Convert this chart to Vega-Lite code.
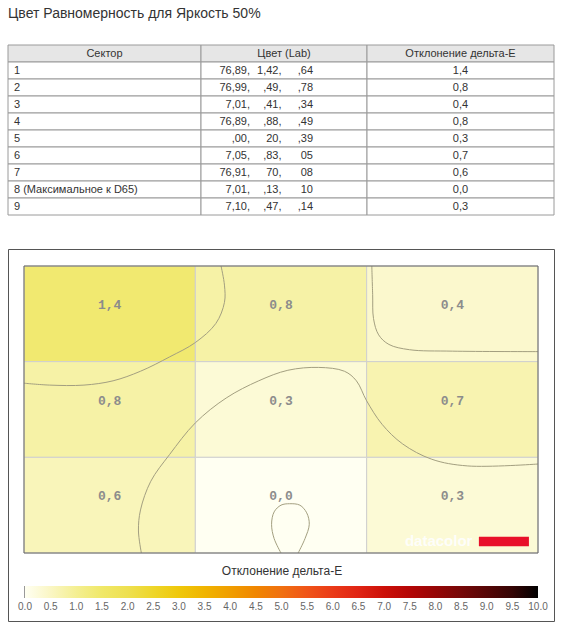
{
  "$schema": "https://vega.github.io/schema/vega-lite/v6.json",
  "padding": {"left": 7, "top": 6, "right": 9, "bottom": 0},
  "background": "white",
  "title": {"text": "Цвет Равномерность для Яркость 50%", "anchor": "start", "frame": "group", "fontSize": 14, "fontWeight": "normal", "font": "Liberation Sans", "color": "#333333", "offset": 24},
  "config": {"view": {"stroke": null}, "font": "Liberation Sans"},
  "datasets": {
    "headers": [{"sector": 0, "c1": "Сектор", "c2": "Цвет (Lab)", "c3": "Отклонение дельта-E"}],
    "sectors": [
      {"sector": 1, "name": "1", "L": "76,89,", "a": "1,42,", "b": ",64", "de": 1.4, "col": 0, "row": 0},
      {"sector": 2, "name": "2", "L": "76,99,", "a": ",49,", "b": ",78", "de": 0.8, "col": 1, "row": 0},
      {"sector": 3, "name": "3", "L": "7,01,", "a": ",41,", "b": ",34", "de": 0.4, "col": 2, "row": 0},
      {"sector": 4, "name": "4", "L": "76,89,", "a": ",88,", "b": ",49", "de": 0.8, "col": 0, "row": 1},
      {"sector": 5, "name": "5", "L": ",00,", "a": "20,", "b": ",39", "de": 0.3, "col": 1, "row": 1},
      {"sector": 6, "name": "6", "L": "7,05,", "a": ",83,", "b": "05", "de": 0.7, "col": 2, "row": 1},
      {"sector": 7, "name": "7", "L": "76,91,", "a": "70,", "b": "08", "de": 0.6, "col": 0, "row": 2},
      {"sector": 8, "name": "8 (Максимальное к D65)", "L": "7,01,", "a": ",13,", "b": "10", "de": 0.0, "col": 1, "row": 2},
      {"sector": 9, "name": "9", "L": "7,10,", "a": ",47,", "b": ",14", "de": 0.3, "col": 2, "row": 2}
    ],
    "contours": [
      {"c": 1, "i": 0, "x": 1.15, "y": 0},
      {"c": 1, "i": 1, "x": 1.17, "y": 0.2},
      {"c": 1, "i": 2, "x": 1.17, "y": 0.38},
      {"c": 1, "i": 3, "x": 1.12, "y": 0.6},
      {"c": 1, "i": 4, "x": 1.0, "y": 0.8},
      {"c": 1, "i": 5, "x": 0.85, "y": 0.95},
      {"c": 1, "i": 6, "x": 0.68, "y": 1.1},
      {"c": 1, "i": 7, "x": 0.52, "y": 1.2},
      {"c": 1, "i": 8, "x": 0.35, "y": 1.245},
      {"c": 1, "i": 9, "x": 0.15, "y": 1.245},
      {"c": 1, "i": 10, "x": 0.0, "y": 1.225},
      {"c": 2, "i": 0, "x": 2.03, "y": 0},
      {"c": 2, "i": 1, "x": 2.035, "y": 0.3},
      {"c": 2, "i": 2, "x": 2.04, "y": 0.55},
      {"c": 2, "i": 3, "x": 2.07, "y": 0.72},
      {"c": 2, "i": 4, "x": 2.13, "y": 0.82},
      {"c": 2, "i": 5, "x": 2.25, "y": 0.875},
      {"c": 2, "i": 6, "x": 2.5, "y": 0.89},
      {"c": 2, "i": 7, "x": 3.0, "y": 0.895},
      {"c": 3, "i": 0, "x": 0.685, "y": 3.0},
      {"c": 3, "i": 1, "x": 0.668, "y": 2.77},
      {"c": 3, "i": 2, "x": 0.68, "y": 2.55},
      {"c": 3, "i": 3, "x": 0.74, "y": 2.25},
      {"c": 3, "i": 4, "x": 0.85, "y": 1.97},
      {"c": 3, "i": 5, "x": 1.0, "y": 1.64},
      {"c": 3, "i": 6, "x": 1.18, "y": 1.38},
      {"c": 3, "i": 7, "x": 1.37, "y": 1.2},
      {"c": 3, "i": 8, "x": 1.54, "y": 1.09},
      {"c": 3, "i": 9, "x": 1.72, "y": 1.06},
      {"c": 3, "i": 10, "x": 1.87, "y": 1.1},
      {"c": 3, "i": 11, "x": 1.94, "y": 1.2},
      {"c": 3, "i": 12, "x": 2.0, "y": 1.41},
      {"c": 3, "i": 13, "x": 2.09, "y": 1.655},
      {"c": 3, "i": 14, "x": 2.21, "y": 1.86},
      {"c": 3, "i": 15, "x": 2.38, "y": 2.02},
      {"c": 3, "i": 16, "x": 2.59, "y": 2.09},
      {"c": 3, "i": 17, "x": 3.0, "y": 2.07},
      {"c": 4, "i": 0, "x": 1.5, "y": 3.0},
      {"c": 4, "i": 1, "x": 1.46, "y": 2.85},
      {"c": 4, "i": 2, "x": 1.445, "y": 2.7},
      {"c": 4, "i": 3, "x": 1.46, "y": 2.57},
      {"c": 4, "i": 4, "x": 1.5, "y": 2.5},
      {"c": 4, "i": 5, "x": 1.55, "y": 2.485},
      {"c": 4, "i": 6, "x": 1.61, "y": 2.5},
      {"c": 4, "i": 7, "x": 1.65, "y": 2.58},
      {"c": 4, "i": 8, "x": 1.665, "y": 2.7},
      {"c": 4, "i": 9, "x": 1.64, "y": 2.85},
      {"c": 4, "i": 10, "x": 1.6, "y": 3.0}
    ],
    "ticks": [
      {"t": 0}, {"t": 0.5}, {"t": 1}, {"t": 1.5}, {"t": 2}, {"t": 2.5}, {"t": 3}, {"t": 3.5}, {"t": 4}, {"t": 4.5}, {"t": 5},
      {"t": 5.5}, {"t": 6}, {"t": 6.5}, {"t": 7}, {"t": 7.5}, {"t": 8}, {"t": 8.5}, {"t": 9}, {"t": 9.5}
    ]
  },
  "spacing": 32,
  "vconcat": [
    {
      "hconcat": [
        {
          "width": 193, "height": 170,
          "layer": [
            {"data": {"name": "headers"}, "mark": {"type": "rect", "fill": "#e6e6e6", "stroke": "#9a9a9a", "strokeWidth": 1},
             "encoding": {"y": {"field": "sector", "type": "ordinal", "scale": {"domain": [0,1,2,3,4,5,6,7,8,9], "paddingInner": 0, "paddingOuter": 0}, "axis": null}}},
            {"data": {"name": "headers"}, "mark": {"type": "text", "fontSize": 11, "color": "#333333"},
             "encoding": {"y": {"field": "sector", "type": "ordinal", "axis": null}, "text": {"field": "c1"}}},
            {"data": {"name": "sectors"}, "mark": {"type": "rect", "fill": "white", "stroke": "#9a9a9a", "strokeWidth": 1},
             "encoding": {"y": {"field": "sector", "type": "ordinal", "axis": null}}},
            {"data": {"name": "sectors"}, "mark": {"type": "text", "fontSize": 11, "color": "#333333", "align": "left", "dx": 6},
             "encoding": {"y": {"field": "sector", "type": "ordinal", "axis": null},
                          "x": {"datum": 0, "type": "quantitative", "scale": {"domain": [0, 1]}, "axis": null},
                          "text": {"field": "name"}}}
          ]
        },
        {
          "width": 166, "height": 170,
          "layer": [
            {"data": {"name": "headers"}, "mark": {"type": "rect", "fill": "#e6e6e6", "stroke": "#9a9a9a", "strokeWidth": 1},
             "encoding": {"y": {"field": "sector", "type": "ordinal", "scale": {"domain": [0,1,2,3,4,5,6,7,8,9], "paddingInner": 0, "paddingOuter": 0}, "axis": null}}},
            {"data": {"name": "headers"}, "mark": {"type": "text", "fontSize": 11, "color": "#333333"},
             "encoding": {"y": {"field": "sector", "type": "ordinal", "axis": null}, "text": {"field": "c2"}}},
            {"data": {"name": "sectors"}, "mark": {"type": "rect", "fill": "white", "stroke": "#9a9a9a", "strokeWidth": 1},
             "encoding": {"y": {"field": "sector", "type": "ordinal", "axis": null}}},
            {"data": {"name": "sectors"},
             "transform": [{"fold": ["L", "a", "b"], "as": ["part", "val"]}],
             "mark": {"type": "text", "fontSize": 11, "color": "#333333", "align": "right"},
             "encoding": {"y": {"field": "sector", "type": "ordinal", "axis": null},
                          "x": {"field": "part", "type": "ordinal", "scale": {"type": "point", "domain": ["L", "a", "b"], "range": [49, 112], "padding": 0}, "axis": null},
                          "text": {"field": "val"}}}
          ]
        },
        {
          "width": 187, "height": 170,
          "layer": [
            {"data": {"name": "headers"}, "mark": {"type": "rect", "fill": "#e6e6e6", "stroke": "#9a9a9a", "strokeWidth": 1},
             "encoding": {"y": {"field": "sector", "type": "ordinal", "scale": {"domain": [0,1,2,3,4,5,6,7,8,9], "paddingInner": 0, "paddingOuter": 0}, "axis": null}}},
            {"data": {"name": "headers"}, "mark": {"type": "text", "fontSize": 11, "color": "#333333"},
             "encoding": {"y": {"field": "sector", "type": "ordinal", "axis": null}, "text": {"field": "c3"}}},
            {"data": {"name": "sectors"}, "mark": {"type": "rect", "fill": "white", "stroke": "#9a9a9a", "strokeWidth": 1},
             "encoding": {"y": {"field": "sector", "type": "ordinal", "axis": null}}},
            {"data": {"name": "sectors"},
             "mark": {"type": "text", "fontSize": 11, "color": "#333333", "text": {"expr": "replace(format(datum.de, '.1f'), '.', ',')"}},
             "encoding": {"y": {"field": "sector", "type": "ordinal", "axis": null}}}
          ]
        }
      ],
      "spacing": 0,
      "bounds": "flush"
    },
    {
      "width": 546, "height": 372,
      "view": {"stroke": "#555555", "strokeWidth": 1},
      "resolve": {"scale": {"x": "independent", "y": "independent"}},
      "layer": [
        {
          "data": {"name": "sectors"},
          "encoding": {
            "x": {"field": "col", "type": "ordinal", "scale": {"type": "band", "domain": [0, 1, 2], "range": [16, 530], "paddingInner": 0, "paddingOuter": 0}, "axis": null},
            "y": {"field": "row", "type": "ordinal", "scale": {"type": "band", "domain": [0, 1, 2], "range": [17, 304], "paddingInner": 0, "paddingOuter": 0}, "axis": null}
          },
          "layer": [
            {"mark": {"type": "rect", "stroke": "#cfcfcf", "strokeWidth": 1},
             "encoding": {"color": {"field": "de", "type": "quantitative",
               "scale": {"type": "linear", "interpolate": "rgb",
                 "domain": [0, 0.5, 1, 1.5, 2, 2.5, 3, 3.5, 4, 4.5, 5, 5.5, 6, 6.5, 7, 7.5, 8, 8.5, 9, 9.5, 10],
                 "range": ["#fffff2", "#faf6c4", "#f4ef92", "#f0e868", "#eee050", "#eed62a", "#efc80a", "#f0b400", "#f09e00", "#f08600", "#f07010", "#f05418", "#ea3a18", "#e02414", "#cc1008", "#b40606", "#960606", "#760808", "#560606", "#340404", "#000000"]},
               "legend": {"orient": "none", "legendX": 17, "legendY": 521, "direction": "horizontal",
                 "gradientLength": 513, "gradientThickness": 12, "gradientStrokeWidth": 0,
                 "title": "Отклонение дельта-E", "titleOrient": "top", "titleAnchor": "middle", "titleFontSize": 12, "titleFontWeight": "normal", "titleColor": "#333333", "titlePadding": 8,
                 "values": [0, 0.5, 1, 1.5, 2, 2.5, 3, 3.5, 4, 4.5, 5, 5.5, 6, 6.5, 7, 7.5, 8, 8.5, 9, 9.5, 10],
                 "format": ".1f", "labelFontSize": 10, "labelColor": "#666666", "labelOverlap": false, "labelAlign": "center", "labelOffset": 4,
                 "encode": {"labels": {"update": {"align": {"value": "center"}}}}}}}},
            {"mark": {"type": "text", "font": "Liberation Mono", "fontWeight": "bold", "fontSize": 13, "color": "#8c8c8c", "dy": -9,
                      "text": {"expr": "replace(format(datum.de, '.1f'), '.', ',')"}}}
          ]
        },
        {
          "layer": [
            {"data": {"name": "contours"},
             "mark": {"type": "line", "interpolate": "catmull-rom", "stroke": "#a39f80", "strokeWidth": 1},
             "encoding": {
               "x": {"field": "x", "type": "quantitative", "scale": {"domain": [0, 3], "range": [16, 530], "nice": false, "zero": false}, "axis": null},
               "y": {"field": "y", "type": "quantitative", "scale": {"domain": [0, 3], "range": [17, 304], "nice": false, "zero": false}, "axis": null},
               "detail": {"field": "c", "type": "nominal"},
               "order": {"field": "i", "type": "quantitative"}}},
            {"data": {"values": [{}]},
             "mark": {"type": "text", "text": "datacolor", "fontSize": 15, "fontWeight": "bold", "color": "white", "opacity": 0.9},
             "encoding": {"x": {"datum": 2.42, "type": "quantitative"}, "y": {"datum": 2.875, "type": "quantitative"}}},
            {"data": {"values": [{}]},
             "mark": {"type": "rect", "color": "#e8102a"},
             "encoding": {"x": {"datum": 2.655, "type": "quantitative"}, "x2": {"datum": 2.947},
                          "y": {"datum": 2.83, "type": "quantitative"}, "y2": {"datum": 2.93}}},
            {"data": {"values": [{}]},
             "mark": {"type": "rect", "fill": null, "fillOpacity": 0, "stroke": "#666666", "strokeWidth": 1},
             "encoding": {"x": {"datum": 0, "type": "quantitative"}, "x2": {"datum": 3},
                          "y": {"datum": 0, "type": "quantitative"}, "y2": {"datum": 3}}}
          ]
        },
        {
          "data": {"name": "ticks"},
          "mark": {"type": "rule", "color": "#333333", "strokeWidth": 1},
          "encoding": {
            "x": {"field": "t", "type": "quantitative", "scale": {"domain": [0, 10], "range": [17, 530], "nice": false, "zero": false}, "axis": null},
            "y": {"datum": 0, "type": "quantitative", "scale": {"domain": [0, 1], "range": [337, 349], "nice": false, "zero": false}, "axis": null},
            "y2": {"datum": 1}
          }
        }
      ]
    }
  ]
}
